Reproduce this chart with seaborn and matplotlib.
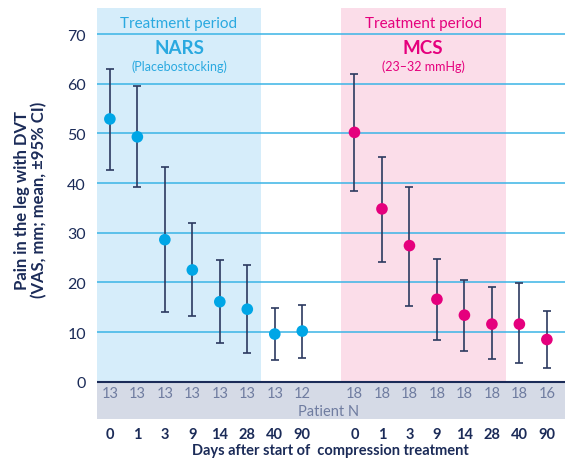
import numpy as np
import pandas as pd
import seaborn as sns
import matplotlib.pyplot as plt

# values
days = ['0', '1', '3', '9', '14', '28', '40', '90']
nars_mean = [52.9, 49.3, 28.6, 22.5, 16.1, 14.6, 9.6, 10.2]
nars_low = [42.7, 39.3, 14.0, 13.2, 7.7, 5.7, 4.4, 4.7]
nars_high = [63.0, 59.6, 43.2, 31.9, 24.6, 23.5, 14.8, 15.4]
nars_n = [13, 13, 13, 13, 13, 13, 13, 12]

mcs_mean = [50.2, 34.8, 27.4, 16.6, 13.4, 11.6, 11.6, 8.5]
mcs_low = [38.3, 24.2, 15.2, 8.5, 6.2, 4.6, 3.7, 2.8]
mcs_high = [62.0, 45.3, 39.3, 24.8, 20.5, 19.0, 19.9, 14.2]
mcs_n = [18, 18, 18, 18, 18, 18, 18, 16]

NAVY = '#1b2b58'
BLUE = '#00a6e6'
PINK = '#e5007d'
GRID = '#3ab4e6'
GRAY_TXT = '#6f7ca0'

MCS_OFFSET = 8.9
n_days = len(days)
pos_nars = np.arange(n_days)
pos_mcs = np.arange(n_days) + MCS_OFFSET

df = pd.DataFrame({
    'pos': np.concatenate([pos_nars, pos_mcs]),
    'mean': nars_mean + mcs_mean,
    'low': nars_low + mcs_low,
    'high': nars_high + mcs_high,
    'group': ['NARS'] * n_days + ['MCS'] * n_days,
})

sns.set_style('white')
plt.rcParams['font.family'] = ['Lato', 'DejaVu Sans']

fig = plt.figure(figsize=(5.67, 4.60), dpi=100)
ax = fig.add_axes([0.171, 0.087, 0.825, 0.893])

ymin, ymax = -7.5, 75.2
ax.set_ylim(ymin, ymax)
ax.set_xlim(-0.47, 16.55)

# treatment period shading
ax.axvspan(-0.47, 5.5, ymin=(0 - ymin) / (ymax - ymin), ymax=1, color='#d6edfa', lw=0, zorder=0)
ax.axvspan(MCS_OFFSET - 0.5, MCS_OFFSET + 5.5, ymin=(0 - ymin) / (ymax - ymin), ymax=1,
           color='#fbdde9', lw=0, zorder=0)
# patient N band
ax.axhspan(ymin, 0, color='#d5dae6', lw=0, zorder=0)

for g in range(10, 80, 10):
    ax.axhline(g, color=GRID, lw=1.1, zorder=1)
ax.axhline(0, color=NAVY, lw=1.5, zorder=2)

ax.errorbar(df['pos'], df['mean'],
            yerr=[df['mean'] - df['low'], df['high'] - df['mean']],
            fmt='none', ecolor='#2c3a60', elinewidth=1.2, capsize=3.2, capthick=1.2, zorder=3)
sns.scatterplot(data=df, x='pos', y='mean', hue='group',
                palette={'NARS': BLUE, 'MCS': PINK}, s=70, linewidth=0,
                legend=False, zorder=4, ax=ax)

# patient numbers
for p, n in zip(pos_nars, nars_n):
    ax.text(p, -2.3, str(n), ha='center', va='center', fontsize=10.5, color=GRAY_TXT)
for p, n in zip(pos_mcs, mcs_n):
    ax.text(p, -2.3, str(n), ha='center', va='center', fontsize=10.5, color=GRAY_TXT)
ax.text(7.95, -5.8, 'Patient N', ha='center', va='center', fontsize=10.5, color=GRAY_TXT)

# treatment period headers
for cx, col, name, sub in [(2.515, '#2aa9e0', 'NARS', '(Placebostocking)'),
                           (MCS_OFFSET + 2.5, PINK, 'MCS', '(23\u201332 mmHg)')]:
    ax.text(cx, 72.2, 'Treatment period', ha='center', va='center', fontsize=11, color=col)
    ax.text(cx, 67.3, name, ha='center', va='center', fontsize=13.5, color=col, fontweight='bold')
    ax.text(cx, 63.6, sub, ha='center', va='center', fontsize=9, color=col)

ax.set_xticks(np.concatenate([pos_nars, pos_mcs]))
ax.set_xticklabels(days + days, fontsize=10.5, fontweight='bold', color=NAVY)
ax.set_yticks(range(0, 80, 10))
ax.set_yticklabels([str(v) for v in range(0, 80, 10)], fontsize=11.5, color=NAVY)
ax.tick_params(axis='both', length=0, pad=6)
ax.tick_params(axis='y', pad=8)
ax.set_xlabel('Days after start of  compression treatment', fontsize=10.5,
              fontweight='bold', color=NAVY, labelpad=1)
ax.set_ylabel('')
for s in ax.spines.values():
    s.set_visible(False)

fig.text(0.054, 0.565, 'Pain in the leg with DVT\n(VAS, mm; mean, \u00b195% CI)', rotation=90,
         ha='center', va='center', fontsize=12, fontweight='bold', color=NAVY,
         multialignment='center', linespacing=1.1)

fig.savefig('out.png', dpi=100)
